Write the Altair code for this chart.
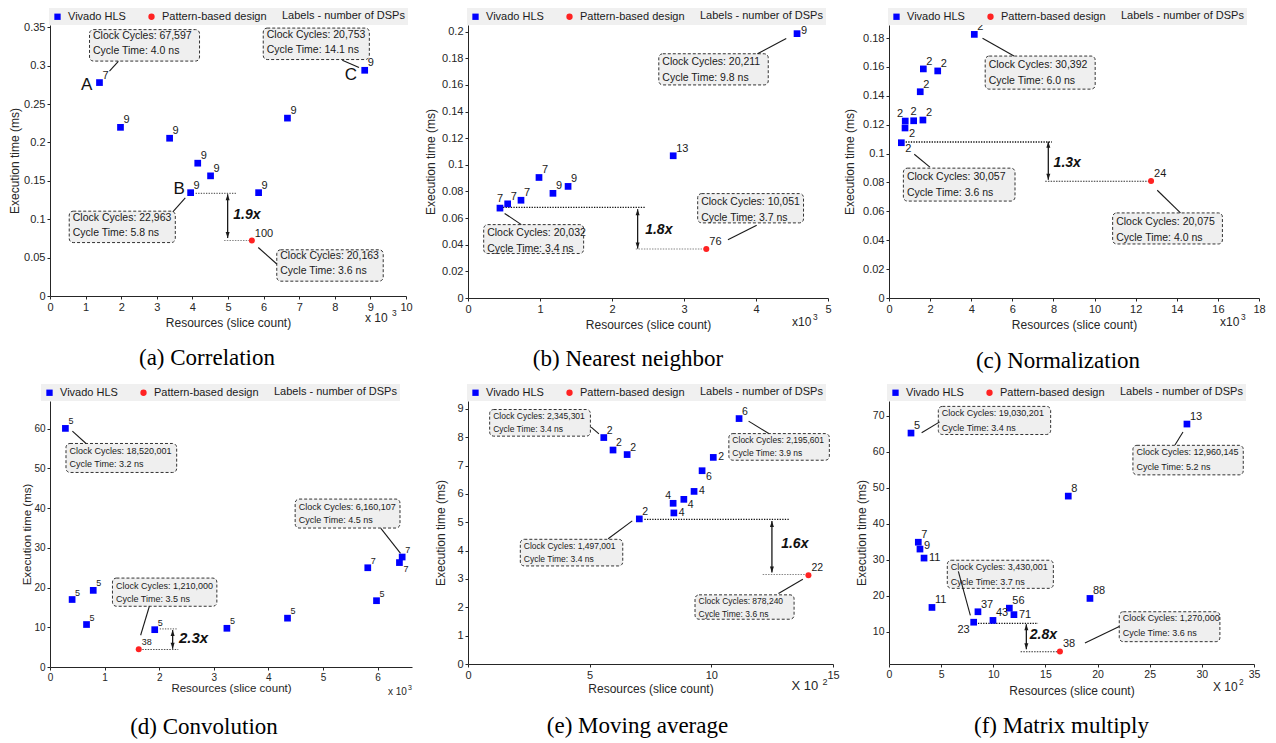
import altair as alt
import pandas as pd

FONT = "Liberation Sans"
SERIF = "Liberation Serif"
INK = "#1a1a1a"
AXIS_INK = "#262626"

SERIES = ["Vivado HLS", "Pattern-based design"]
SERIES_COLORS = ["#0000ff", "#ff2222"]
SERIES_SHAPES = ["square", "circle"]
LEGEND_NOTE = "Labels - number of DSPs"
X_TITLE = "Resources (slice count)"
Y_TITLE = "Execution time (ms)"

# ---------------- (a) Correlation ----------------
A_SLICES = [1390, 1980, 3360, 4150, 4510, 3950, 5860, 6670, 8840]
A_TIME = [0.278, 0.2197, 0.2055, 0.173, 0.1565, 0.1346, 0.1346, 0.2317, 0.294]
A_DSP = ["7", "9", "9", "9", "9", "9", "9", "9", "9"]
A_PB_SLICES = [5670]
A_PB_TIME = [0.0722]
A_PB_DSP = ["100"]
A_CYCLES = ["67,597", "20,753", "22,963", "20,163"]
A_CYCLE_NS = ["4.0", "14.1", "5.8", "3.6"]
A_SPEEDUP = "1.9x"
A_XTICKS = [0, 1000, 2000, 3000, 4000, 5000, 6000, 7000, 8000, 9000, 10000]
A_YTICKS = [0, 0.05, 0.1, 0.15, 0.2, 0.25, 0.3, 0.35]

# ---------------- (b) Nearest neighbor ----------------
B_SLICES = [444, 551, 736, 986, 1180, 1390, 2850, 4570]
B_TIME = [0.0675, 0.0707, 0.0734, 0.0905, 0.0786, 0.0838, 0.1068, 0.1985]
B_DSP = ["7", "7", "7", "7", "9", "9", "13", "9"]
B_PB_SLICES = [3310]
B_PB_TIME = [0.0368]
B_PB_DSP = ["76"]
B_CYCLES = ["20,211", "20,032", "10,051"]
B_CYCLE_NS = ["9.8", "3.4", "3.7"]
B_SPEEDUP = "1.8x"
B_XTICKS = [0, 1000, 2000, 3000, 4000, 5000]
B_YTICKS = [0, 0.02, 0.04, 0.06, 0.08, 0.1, 0.12, 0.14, 0.16, 0.18, 0.2]

# ---------------- (c) Normalization ----------------
C_SLICES = [4150, 1670, 2370, 1520, 790, 780, 1200, 1650, 600]
C_TIME = [0.1825, 0.1586, 0.1572, 0.1428, 0.1225, 0.1177, 0.1227, 0.1232, 0.1075]
C_DSP = ["2", "2", "2", "2", "2", "2", "2", "2", "2"]
C_PB_SLICES = [12750]
C_PB_TIME = [0.081]
C_PB_DSP = ["24"]
C_CYCLES = ["30,392", "30,057", "20,075"]
C_CYCLE_NS = ["6.0", "3.6", "4.0"]
C_SPEEDUP = "1.3x"
C_XTICKS = [0, 2000, 4000, 6000, 8000, 10000, 12000, 14000, 16000, 18000]
C_YTICKS = [0, 0.02, 0.04, 0.06, 0.08, 0.1, 0.12, 0.14, 0.16, 0.18]

# ---------------- (d) Convolution ----------------
D_SLICES = [282, 405, 792, 669, 1918, 3240, 4350, 5820, 5980, 6400, 6450]
D_TIME = [60.1, 17.0, 19.3, 10.7, 9.4, 9.75, 12.3, 25.0, 16.7, 26.3, 27.7]
D_DSP = ["5", "5", "5", "5", "5", "5", "5", "7", "5", "7", "7"]
D_PB_SLICES = [1625]
D_PB_TIME = [4.5]
D_PB_DSP = ["38"]
D_CYCLES = ["18,520,001", "6,160,107", "1,210,000"]
D_CYCLE_NS = ["3.2", "4.5", "3.5"]
D_SPEEDUP = "2.3x"
D_XTICKS = [0, 1000, 2000, 3000, 4000, 5000, 6000]
D_YTICKS = [0, 10, 20, 30, 40, 50, 60]

# ---------------- (e) Moving average ----------------
E_SLICES = [558, 596, 654, 704, 843, 846, 887, 929, 962, 1008, 1114]
E_TIME = [7.99, 7.55, 7.39, 5.12, 5.67, 5.33, 5.81, 6.09, 6.82, 7.29, 8.66]
E_DSP = ["2", "2", "2", "2", "4", "4", "4", "4", "6", "2", "6"]
E_PB_SLICES = [1399]
E_PB_TIME = [3.13]
E_PB_DSP = ["22"]
E_CYCLES = ["2,345,301", "2,195,601", "1,497,001", "878,240"]
E_CYCLE_NS = ["3.4", "3.9", "3.4", "3.6"]
E_SPEEDUP = "1.6x"
E_XTICKS = [0, 500, 1000, 1500]
E_YTICKS = [0, 1, 2, 3, 4, 5, 6, 7, 8, 9]

# ---------------- (f) Matrix multiply ----------------
F_SLICES = [211, 2857, 1719, 281, 297, 336, 412, 812, 853, 997, 1154, 1198, 1927]
F_TIME = [65.2, 67.7, 47.7, 34.9, 33.0, 30.5, 16.8, 12.7, 15.6, 13.2, 16.6, 14.8, 19.3]
F_DSP = ["5", "13", "8", "7", "9", "11", "11", "23", "37", "43", "56", "71", "88"]
F_PB_SLICES = [1639]
F_PB_TIME = [4.6]
F_PB_DSP = ["38"]
F_CYCLES = ["19,030,201", "12,960,145", "3,430,001", "1,270,000"]
F_CYCLE_NS = ["3.4", "5.2", "3.7", "3.6"]
F_SPEEDUP = "2.8x"
F_XTICKS = [0, 500, 1000, 1500, 2000, 2500, 3000, 3500]
F_YTICKS = [10, 20, 30, 40, 50, 60, 70]

# ---------------- annotation placement (data coordinates) ----------------
LABEL_OFFSETS = {
    "ur": ("left", 3, -7),
    "u": ("center", 0, -9),
    "r": ("left", 5, 0),
    "rh": ("left", 4, -3),
    "lr": ("left", 4, 6),
    "ul": ("right", -2, -7),
    "ll": ("right", -4, 8),
}

PANELS = [
    dict(
        xs=A_SLICES, ys=A_TIME, dsp=A_DSP, pos=["ur"] * 9,
        pxs=A_PB_SLICES, pys=A_PB_TIME, pdsp=A_PB_DSP, ppos=["ur"],
        cycles=A_CYCLES, ns=A_CYCLE_NS, speed=A_SPEEDUP,
        xticks=A_XTICKS, yticks=A_YTICKS, xdiv=1000,
        xdom=[0, 10000], ydom=[0, 0.353], w=356, h=271,
        box_x=[(1110, 4200), (5990, 8970), (540, 3520), (6370, 9360)],
        box_y=[(0.347, 0.306), (0.349, 0.308), (0.1105, 0.0696), (0.0602, 0.0193)],
        leaders=[(1670, 0.293, 1920, 0.3057), (8210, 0.307, 8680, 0.2975),
                 (3450, 0.1096, 3800, 0.1277), (5850, 0.0632, 6370, 0.0417)],
        upper=(4090, 5230, 0.1337), lower=(4890, 5640, 0.0722),
        arrow=(4990, 0.1325, 0.0755), speed_at=(5530, 0.106),
        dot_colors=("#666666", "#888888"),
        letters=[("A", 1030, 0.2743), ("B", 3630, 0.1393), ("C", 8450, 0.2885)],
        exp=(8845, -0.0283, "x 10", "3", 12, 27, -5),
        box_fs=10.5, d1=6.7, lsp=15, lbl_fs=11, tick_fs=11, title_fs=12,
        ytp=2, xtp=5, pad=2, lx=-1,
        caption="(a) Correlation", cap_dx=-21, cap_off=19, speed_fs=14,
    ),
    dict(
        xs=B_SLICES, ys=B_TIME, dsp=B_DSP, pos=["u", "ur", "ur", "ur", "ur", "ur", "ur", "rh"],
        pxs=B_PB_SLICES, pys=B_PB_TIME, pdsp=B_PB_DSP, ppos=["ur"],
        cycles=B_CYCLES, ns=B_CYCLE_NS, speed=B_SPEEDUP,
        xticks=B_XTICKS, yticks=B_YTICKS, xdiv=1000,
        xdom=[0, 5000], ydom=[0, 0.205], w=360, h=273,
        box_x=[(2650, 4170), (218, 1606), (3190, 4660)],
        box_y=[(0.1834, 0.160), (0.0551, 0.0334), (0.0784, 0.0564)],
        leaders=[(4020, 0.1834, 4420, 0.1948), (741, 0.0551, 509, 0.0635),
                 (3610, 0.0438, 4010, 0.0546)],
        upper=(486, 2468, 0.068), lower=(2330, 3300, 0.0368),
        arrow=(2356, 0.0667, 0.0371), speed_at=(2650, 0.0512),
        dot_colors=("#111111", "#888888"),
        letters=[],
        exp=(4500, -0.0178, "x10", "3", 12, 21, -5),
        box_fs=10.5, d1=8, lsp=16, lbl_fs=11, tick_fs=11, title_fs=12,
        ytp=4, xtp=5, pad=4, lx=-1,
        caption="(b) Nearest neighbor", cap_dx=-20, cap_off=18, speed_fs=14,
    ),
    dict(
        xs=C_SLICES, ys=C_TIME, dsp=C_DSP, pos=["ur", "ur", "ur", "ur", "ul", "lr", "u", "ur", "lr"],
        pxs=C_PB_SLICES, pys=C_PB_TIME, pdsp=C_PB_DSP, ppos=["ur"],
        cycles=C_CYCLES, ns=C_CYCLE_NS, speed=C_SPEEDUP,
        xticks=C_XTICKS, yticks=C_YTICKS, xdiv=1000,
        xdom=[0, 18000], ydom=[0, 0.189], w=370, h=273,
        box_x=[(4680, 10030), (700, 6130), (10880, 16220)],
        box_y=[(0.1675, 0.1446), (0.0899, 0.0671), (0.0589, 0.0374)],
        leaders=[(4550, 0.1798, 6080, 0.1675), (1230, 0.0995, 1990, 0.0906),
                 (13050, 0.0746, 14180, 0.0589)],
        upper=(810, 7930, 0.108), lower=(7600, 12660, 0.0808),
        arrow=(7750, 0.1081, 0.0819), speed_at=(8670, 0.0933),
        dot_colors=("#111111", "#333333"),
        letters=[],
        exp=(16103, -0.0166, "x10", "3", 12, 21, -5),
        box_fs=10.5, d1=8.7, lsp=16, lbl_fs=11, tick_fs=11, title_fs=12,
        ytp=6, xtp=5, pad=9, lx=-1,
        caption="(c) Normalization", cap_dx=-16, cap_off=20, speed_fs=14,
    ),
    dict(
        xs=D_SLICES, ys=D_TIME, dsp=D_DSP, pos=["ur"] * 9 + ["lr", "ur"],
        pxs=D_PB_SLICES, pys=D_PB_TIME, pdsp=D_PB_DSP, ppos=["ur"],
        cycles=D_CYCLES, ns=D_CYCLE_NS, speed=D_SPEEDUP,
        xticks=D_XTICKS, yticks=D_YTICKS, xdiv=1000,
        xdom=[0, 6630], ydom=[0, 67], w=362, h=266,
        box_x=[(293, 2320), (4490, 6410), (1144, 3056)],
        box_y=[(56.3, 49.0), (42.3, 35.0), (22.4, 15.3)],
        leaders=[(410, 59.4, 660, 56.3), (6060, 34.9, 6420, 28.6),
                 (1820, 15.3, 1660, 8.0)],
        upper=(2010, 2330, 9.6), lower=(1690, 2350, 4.4),
        arrow=(2246, 9.3, 4.6), speed_at=(2630, 7.3),
        dot_colors=("#777777", "#555555"),
        letters=[],
        exp=(6190, -6.3, "x 10", "3", 10, 20, -4),
        box_fs=9, d1=7.7, lsp=13, lbl_fs=9, tick_fs=10, title_fs=11.5,
        ytp=1, xtp=0, pad=13, lx=-9,
        caption="(d) Convolution", cap_dx=-27, cap_off=19, speed_fs=15,
    ),
    dict(
        xs=E_SLICES, ys=E_TIME, dsp=E_DSP,
        pos=["ur", "ur", "ur", "ur", "ul", "r", "lr", "r", "lr", "r", "ur"],
        pxs=E_PB_SLICES, pys=E_PB_TIME, pdsp=E_PB_DSP, ppos=["ur"],
        cycles=E_CYCLES, ns=E_CYCLE_NS, speed=E_SPEEDUP,
        xticks=E_XTICKS, yticks=E_YTICKS, xdiv=100,
        xdom=[0, 1500], ydom=[0, 9.28], w=365, h=263,
        box_x=[(89, 503), (1072, 1485), (215, 636), (933, 1340)],
        box_y=[(8.98, 8.04), (8.13, 7.19), (4.40, 3.46), (2.44, 1.58)],
        leaders=[(506, 8.36, 538, 8.12), (1153, 8.57, 1236, 8.13),
                 (576, 4.42, 675, 5.05), (1276, 2.49, 1376, 2.99)],
        upper=(725, 1322, 5.1), lower=(1211, 1389, 3.16),
        arrow=(1249, 5.05, 3.23), speed_at=(1343, 4.23),
        dot_colors=("#111111", "#888888"),
        letters=[],
        exp=(1329, -0.776, "X 10", "2", 13, 31, -4),
        box_fs=8.5, d1=6.3, lsp=13, lbl_fs=10.5, tick_fs=11, title_fs=12,
        ytp=9, xtp=3, pad=5, lx=-1,
        caption="(e) Moving average", cap_dx=-13, cap_off=21, speed_fs=14,
    ),
    dict(
        xs=F_SLICES, ys=F_TIME, dsp=F_DSP,
        pos=["ur", "ur", "ur", "ur", "rh", "r", "ur", "ll", "ur", "ur", "ur", "r", "ur"],
        pxs=F_PB_SLICES, pys=F_PB_TIME, pdsp=F_PB_DSP, ppos=["ur"],
        cycles=F_CYCLES, ns=F_CYCLE_NS, speed=F_SPEEDUP,
        xticks=F_XTICKS, yticks=F_YTICKS, xdiv=100,
        xdom=[0, 3500], ydom=[1.1, 74.1], w=365, h=263,
        box_x=[(473, 1550), (2339, 3397), (559, 1576), (2208, 3173)],
        box_y=[(72.6, 64.8), (61.8, 53.6), (29.9, 22.1), (15.6, 7.3)],
        leaders=[(313, 65.3, 486, 68.3), (2742, 61.9, 2819, 65.5),
                 (665, 26.8, 780, 14.6), (1879, 6.9, 2208, 11.5)],
        upper=(853, 1429, 12.4), lower=(1262, 1620, 4.5),
        arrow=(1317, 12.1, 5.2), speed_at=(1480, 9.2),
        dot_colors=("#111111", "#333333"),
        letters=[],
        exp=(3107, -5.28, "X 10", "2", 12, 26, -5),
        box_fs=9, d1=6.7, lsp=14.7, lbl_fs=11, tick_fs=10.5, title_fs=12,
        ytp=4, xtp=5.5, pad=7, lx=-2,
        caption="(f) Matrix multiply", cap_dx=-10, cap_off=19, speed_fs=14,
    ),
]


def build_panel(p):
    xs = alt.Scale(domain=p["xdom"], nice=False, zero=False)
    ys = alt.Scale(domain=p["ydom"], nice=False, zero=False)
    ax_x = alt.Axis(values=p["xticks"], labelExpr=f"datum.value / {p['xdiv']}",
                    labelFontSize=p["tick_fs"], titleFontSize=p["title_fs"],
                    titlePadding=p["xtp"])
    ax_y = alt.Axis(values=p["yticks"], format="~r", labelFontSize=p["tick_fs"],
                    titleFontSize=p["title_fs"], titlePadding=p["ytp"])

    def X(f):
        return alt.X(f"{f}:Q", scale=xs, axis=ax_x, title=X_TITLE)

    def Y(f):
        return alt.Y(f"{f}:Q", scale=ys, axis=ax_y, title=Y_TITLE)

    boxes = pd.DataFrame({
        "x1": [b[0] for b in p["box_x"]], "x2": [b[1] for b in p["box_x"]],
        "y1": [b[0] for b in p["box_y"]], "y2": [b[1] for b in p["box_y"]],
        "l1": ["Clock Cycles: " + c for c in p["cycles"]],
        "l2": ["Cycle Time: " + t + " ns" for t in p["ns"]],
        "lx1": [l[0] for l in p["leaders"]], "ly1": [l[1] for l in p["leaders"]],
        "lx2": [l[2] for l in p["leaders"]], "ly2": [l[3] for l in p["leaders"]],
    })
    layers = []
    layers.append(alt.Chart(boxes).mark_rect(
        fill="#efefef", stroke="#333333", strokeWidth=1, strokeDash=[3, 2], cornerRadius=4
    ).encode(x=X("x1"), x2="x2", y=Y("y1"), y2="y2"))
    layers.append(alt.Chart(boxes).mark_text(
        align="left", baseline="middle", dx=3.5, dy=p["d1"], font=FONT,
        fontSize=p["box_fs"], color=INK
    ).encode(x=X("x1"), y=Y("y1"), text="l1"))
    layers.append(alt.Chart(boxes).mark_text(
        align="left", baseline="middle", dx=3.5, dy=p["d1"] + p["lsp"], font=FONT,
        fontSize=p["box_fs"], color=INK
    ).encode(x=X("x1"), y=Y("y1"), text="l2"))
    layers.append(alt.Chart(boxes).mark_rule(color=INK, strokeWidth=1.1).encode(
        x=X("lx1"), y=Y("ly1"), x2="lx2", y2="ly2"))

    up = pd.DataFrame({"x": [p["upper"][0]], "x2": [p["upper"][1]], "y": [p["upper"][2]]})
    lo = pd.DataFrame({"x": [p["lower"][0]], "x2": [p["lower"][1]], "y": [p["lower"][2]]})
    layers.append(alt.Chart(up).mark_rule(color=p["dot_colors"][0], strokeWidth=1.3,
                                          strokeDash=[1.3, 1.3]).encode(
        x=X("x"), x2="x2", y=Y("y")))
    layers.append(alt.Chart(lo).mark_rule(color=p["dot_colors"][1], strokeWidth=1.1,
                                          strokeDash=[1.5, 1.2]).encode(
        x=X("x"), x2="x2", y=Y("y")))

    arr = pd.DataFrame({"x": [p["arrow"][0]], "yt": [p["arrow"][1]], "yb": [p["arrow"][2]]})
    layers.append(alt.Chart(arr).mark_rule(color=INK, strokeWidth=1.3).encode(
        x=X("x"), y=Y("yt"), y2="yb"))
    layers.append(alt.Chart(arr).mark_point(shape="M0,0L-1,3L1,3Z", filled=True, size=16,
                                            color=INK, opacity=1).encode(x=X("x"), y=Y("yt")))
    layers.append(alt.Chart(arr).mark_point(shape="M0,0L-1,-3L1,-3Z", filled=True, size=16,
                                            color=INK, opacity=1).encode(x=X("x"), y=Y("yb")))
    sp = pd.DataFrame({"x": [p["speed_at"][0]], "y": [p["speed_at"][1]], "t": [p["speed"]]})
    layers.append(alt.Chart(sp).mark_text(font=FONT, fontSize=p["speed_fs"], fontWeight="bold",
                                          fontStyle="italic", color="#111111", align="center",
                                          baseline="middle").encode(
        x=X("x"), y=Y("y"), text="t"))

    note = LEGEND_NOTE + "\u00a0" * p["pad"]
    leg = alt.Legend(title=note, titleOrient="right", titlePadding=15, titleFont=FONT,
                     titleFontSize=11, titleFontWeight="normal", titleColor=INK,
                     titleBaseline="middle", titleAnchor="middle",
                     orient="none", legendX=p["lx"], legendY=-17,
                     direction="horizontal", fillColor="#f0f0f0", padding=3,
                     columnPadding=20, labelFont=FONT, labelFontSize=11, labelColor=INK,
                     labelOffset=5, symbolSize=40, symbolStrokeWidth=0, symbolOpacity=1)
    col = alt.Color("series:N", scale=alt.Scale(domain=SERIES, range=SERIES_COLORS), legend=leg)
    shp = alt.Shape("series:N", scale=alt.Scale(domain=SERIES, range=SERIES_SHAPES), legend=leg)

    viv = pd.DataFrame({"x": p["xs"], "y": p["ys"], "dsp": p["dsp"], "pos": p["pos"],
                        "series": [SERIES[0]] * len(p["xs"])})
    pat = pd.DataFrame({"x": p["pxs"], "y": p["pys"], "dsp": p["pdsp"], "pos": p["ppos"],
                        "series": [SERIES[1]] * len(p["pxs"])})
    layers.append(alt.Chart(viv).mark_point(filled=True, size=45, opacity=1).encode(
        x=X("x"), y=Y("y"), color=col, shape=shp))
    layers.append(alt.Chart(pat).mark_point(filled=True, size=36, opacity=1).encode(
        x=X("x"), y=Y("y"), color=col, shape=shp))

    allpts = pd.concat([viv, pat], ignore_index=True)
    for code in sorted(set(allpts["pos"])):
        al, dx, dy = LABEL_OFFSETS[code]
        sub = allpts[allpts["pos"] == code]
        layers.append(alt.Chart(sub).mark_text(
            align=al, baseline="middle", dx=dx, dy=dy, font=FONT, fontSize=p["lbl_fs"], color=INK
        ).encode(x=X("x"), y=Y("y"), text="dsp"))

    if p["letters"]:
        let = pd.DataFrame({"t": [l[0] for l in p["letters"]], "x": [l[1] for l in p["letters"]],
                            "y": [l[2] for l in p["letters"]]})
        layers.append(alt.Chart(let).mark_text(font=FONT, fontSize=17, color="#111111",
                                               align="center", baseline="middle").encode(
            x=X("x"), y=Y("y"), text="t"))

    ex = p["exp"]
    exd = pd.DataFrame({"x": [ex[0]], "y": [ex[1]], "b": [ex[2]], "s": [ex[3]]})
    layers.append(alt.Chart(exd).mark_text(font=FONT, fontSize=ex[4], color=AXIS_INK,
                                           align="left", baseline="middle").encode(
        x=X("x"), y=Y("y"), text="b"))
    layers.append(alt.Chart(exd).mark_text(font=FONT, fontSize=ex[4] * 0.7, color=AXIS_INK,
                                           align="left", baseline="middle", dx=ex[5],
                                           dy=ex[6]).encode(
        x=X("x"), y=Y("y"), text="s"))

    title = alt.TitleParams(p["caption"], orient="bottom", anchor="middle", frame="group",
                            font=SERIF, fontSize=23, fontWeight="normal", color="#000000",
                            dx=p["cap_dx"], offset=p["cap_off"])
    return alt.layer(*layers).properties(width=p["w"], height=p["h"], title=title)


panels = [build_panel(p) for p in PANELS]

chart = alt.concat(
    *panels, columns=3, bounds="flush", spacing={"row": 103, "column": 56}
).resolve_scale(
    color="independent", shape="independent"
).resolve_legend(
    color="independent", shape="independent"
).properties(
    padding={"left": 0, "top": 0, "right": 0, "bottom": 0}
).configure_view(
    stroke=None
).configure_axis(
    grid=False, domainColor=AXIS_INK, domainWidth=1, tickColor=AXIS_INK, tickSize=3,
    tickWidth=1, labelColor=AXIS_INK, titleColor=AXIS_INK, labelFont=FONT, titleFont=FONT,
    titleFontWeight="normal", labelPadding=2, labelFlush=False, labelOverlap=False
).configure_legend(
    labelFont=FONT, labelFontSize=11, titleFont=FONT, titleFontSize=11,
    titleFontWeight="normal", padding=3, symbolSize=40
)

chart.save("out.html", embed_options={"renderer": "svg", "actions": False})
